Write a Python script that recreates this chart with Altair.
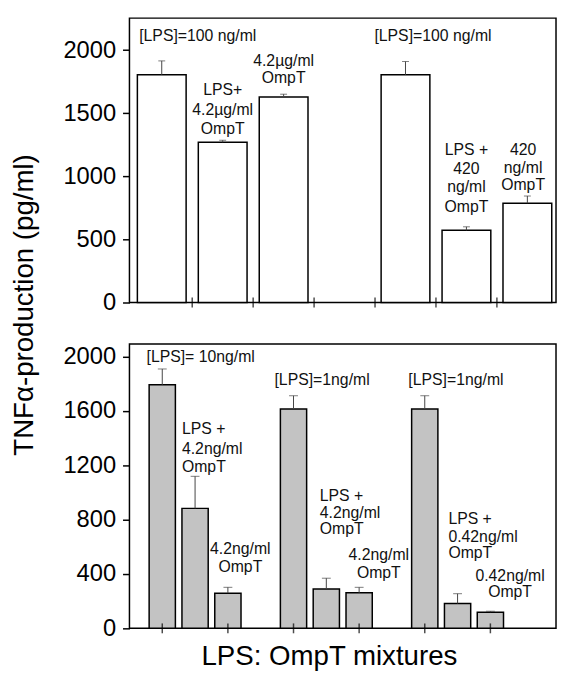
import altair as alt
import pandas as pd

# ---------------- data ----------------
# top panel (white bars)
top_slots = [0, 1, 2, 4, 5, 6]
top_values = [1805, 1270, 1628, 1805, 572, 787]
top_errors = [110, 16, 23, 105, 28, 57]

# bottom panel (grey bars)
bottom_slots = [0, 1, 2, 4, 5, 6, 8, 9, 10]
bottom_values = [1793, 883, 259, 1614, 290, 262, 1614, 183, 119]
bottom_errors = [116, 236, 43, 98, 79, 40, 98, 72, 7]

top_x_ticks = [0.5, 1.5, 2.5, 3.5, 4.5, 5.5]
bottom_x_ticks = [0, 2, 4, 6, 8, 10]
top_y_ticks = [0, 250, 500, 750, 1000, 1250, 1500, 1750, 2000]
bottom_y_ticks = [0, 200, 400, 600, 800, 1000, 1200, 1400, 1600, 1800, 2000]

top_label_text = ["[LPS]=100 ng/ml", "LPS+", "4.2µg/ml", "OmpT", "4.2µg/ml", "OmpT",
                  "[LPS]=100 ng/ml", "LPS +", "420", "ng/ml", "OmpT", "420", "ng/ml", "OmpT"]
top_label_slot = [-0.37, 1, 1, 1, 2, 2, 3.49, 5, 5, 5, 5, 5.93, 5.93, 5.93]
top_label_value = [2108, 1680, 1523, 1374, 1910, 1775, 2108, 1210, 1054, 912, 760, 1210, 1069, 928]
top_label_align = ["left", "center", "center", "center", "center", "center", "left",
                   "center", "center", "center", "center", "center", "center", "center"]

bottom_label_text = ["[LPS]= 10ng/ml", "LPS +", "4.2ng/ml", "OmpT", "4.2ng/ml", "OmpT",
                     "[LPS]=1ng/ml", "LPS +", "4.2ng/ml", "OmpT", "4.2ng/ml", "OmpT",
                     "[LPS]=1ng/ml", "LPS +", "0.42ng/ml", "OmpT", "0.42ng/ml", "OmpT"]
bottom_label_slot = [-0.48, 0.6, 0.6, 0.6, 2.38, 2.38,
                     3.42, 4.8, 4.8, 4.8, 6.6, 6.6,
                     7.5, 8.72, 8.72, 8.72, 10.6, 10.6]
bottom_label_value = [2000, 1467, 1321, 1190, 582, 454,
                      1829, 974, 850, 733, 540, 404,
                      1829, 803, 671, 554, 382, 268]
bottom_label_align = ["left", "left", "left", "left", "center", "center",
                      "left", "left", "left", "left", "center", "center",
                      "left", "left", "left", "left", "center", "center"]

W = 432
H = 288
FONT = "Liberation Sans"
FS = 16


def panel(slots, values, errors, fill, xdom, ydom, yticks, ymajor, xticks,
          ltext, lslot, lvalue, lalign, cap, xtitle=None, ytitle=None):
    bars = pd.DataFrame({"slot": slots, "value": values, "err": errors})
    labels = pd.DataFrame({"text": ltext, "slot": lslot, "value": lvalue, "align": lalign})
    ticks = pd.DataFrame({"pos": xticks})

    xs = alt.Scale(domain=xdom, nice=False, zero=False)
    ys = alt.Scale(domain=ydom, nice=False)

    xaxis_kw = dict(labels=False, ticks=False, domain=False, grid=False)
    if xtitle:
        xaxis = alt.Axis(title=xtitle, titleFontSize=28, titleFontWeight="normal",
                         titleFont=FONT, titleColor="black", titleX=202, titleY=37,
                         titleBaseline="alphabetic", titleAlign="center", **xaxis_kw)
    else:
        xaxis = alt.Axis(title=None, **xaxis_kw)

    yaxis_kw = dict(values=yticks, format="d",
                    labelExpr=f"datum.value % {ymajor} === 0 ? datum.label : ''",
                    labelOverlap=False, labelFontSize=24, labelFont=FONT, labelColor="black",
                    labelPadding=7, domain=False, grid=False, tickColor="black", tickWidth=1.5,
                    tickSize={"condition": {"test": f"datum.value % {ymajor} === 0", "value": 7},
                              "value": 4})
    if ytitle:
        yaxis = alt.Axis(title=ytitle, titleFontSize=28, titleFontWeight="normal",
                         titleFont=FONT, titleColor="black", titleX=-98, titleY=290,
                         titleAngle=270, titleBaseline="alphabetic", titleAlign="center",
                         **yaxis_kw)
    else:
        yaxis = alt.Axis(title=None, **yaxis_kw)

    base = alt.Chart(bars).transform_calculate(
        x0="datum.slot - 0.4", x1="datum.slot + 0.4", hi="datum.value + datum.err", zero="0"
    )
    bar_layer = base.mark_bar(fill=fill, stroke="black", strokeWidth=1.5).encode(
        x=alt.X("x0:Q", scale=xs, axis=xaxis),
        x2="x1:Q",
        y=alt.Y("value:Q", scale=ys, axis=yaxis),
        y2="zero:Q",
    )
    err_rule = base.mark_rule(color="#444", strokeWidth=1).encode(
        x=alt.X("slot:Q", scale=xs), y=alt.Y("value:Q", scale=ys), y2="hi:Q"
    )
    err_cap = base.mark_tick(orient="horizontal", size=cap, thickness=1, color="#444").encode(
        x=alt.X("slot:Q", scale=xs), y=alt.Y("hi:Q", scale=ys)
    )
    tick_layer = alt.Chart(ticks).mark_tick(
        orient="vertical", size=10, thickness=1.5, color="black"
    ).encode(x=alt.X("pos:Q", scale=xs), y=alt.value(H))

    text_left = alt.Chart(labels).transform_filter("datum.align === 'left'").mark_text(
        align="left", baseline="middle", fontSize=FS, font=FONT, color="#111"
    ).encode(x=alt.X("slot:Q", scale=xs), y=alt.Y("value:Q", scale=ys), text="text:N")
    text_center = alt.Chart(labels).transform_filter("datum.align === 'center'").mark_text(
        align="center", baseline="middle", fontSize=FS, font=FONT, color="#111"
    ).encode(x=alt.X("slot:Q", scale=xs), y=alt.Y("value:Q", scale=ys), text="text:N")

    return alt.layer(bar_layer, err_rule, err_cap, tick_layer, text_left, text_center).properties(
        width=W, height=H
    )


top = panel(top_slots, top_values, top_errors, "white", [-0.53, 6.47], [0, 2254],
            top_y_ticks, 500, top_x_ticks, top_label_text, top_label_slot, top_label_value,
            top_label_align, cap=7, ytitle="TNFα-production (pg/ml)")
bottom = panel(bottom_slots, bottom_values, bottom_errors, "#c3c3c3", [-1, 12], [0, 2093],
               bottom_y_ticks, 400, bottom_x_ticks, bottom_label_text, bottom_label_slot,
               bottom_label_value, bottom_label_align, cap=9, xtitle="LPS: OmpT mixtures")

chart = alt.vconcat(top, bottom, spacing=42, bounds="flush").properties(
    padding={"left": 2, "top": 5, "right": 0, "bottom": 0}
).configure(font=FONT, background="white").configure_view(stroke="black", strokeWidth=1.5)

chart.save("out.html", embed_options={"renderer": "svg", "actions": False})
